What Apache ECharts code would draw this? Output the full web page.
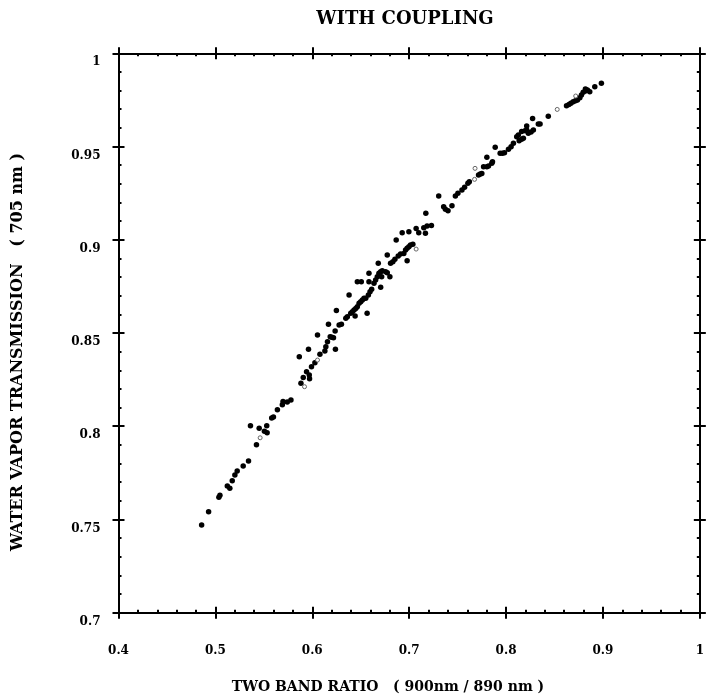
<!DOCTYPE html>
<html><head><meta charset="utf-8">
<script src="https://cdn.jsdelivr.net/npm/echarts@6/dist/echarts.min.js"></script>
<style>html,body{margin:0;padding:0;background:#fff}#c{width:707px;height:697px}</style>
</head><body><div id="c"></div>
<script>
const titleText = 'WITH COUPLING';
const xName = 'TWO BAND RATIO   ( 900nm / 890 nm )';
const yName = 'WATER VAPOR TRANSMISSION   ( 705 nm )';
const xTickLabels = ['0.4','0.5','0.6','0.7','0.8','0.9','1'];
const yTickLabels = ['0.7','0.75','0.8','0.85','0.9','0.95','1'];

const blackX = [0.4858,0.4930,0.5036,0.5047,0.5123,0.5149,0.5174,0.5201,0.5225,0.5287,0.5342,0.5424,0.5362,0.5452,0.5506,0.5534,0.5530,0.5581,0.5599,0.5640,0.5691,0.5698,0.5780,0.5742,
0.5883,0.5866,0.5907,0.5941,0.5969,0.5972,0.5992,0.6027,0.6079,0.6130,0.6140,0.6157,0.6185,0.6219,0.6239,0.6054,0.5961,0.6167,0.6249,0.6277,0.6301,0.6236,0.6202,
0.6346,0.6362,0.6397,0.6414,0.6431,0.6449,0.6465,0.6483,0.6500,0.6517,0.6534,0.6442,0.6566,0.6380,0.6552,0.6579,0.6596,0.6613,0.6465,0.6506,0.6585,0.6585,0.6637,
0.6654,0.6671,0.6688,0.6706,0.6722,0.6757,0.6774,0.6716,0.6801,0.6706,0.6681,0.6774,0.6808,0.6832,0.6853,0.6887,0.6911,0.6866,0.6945,0.6963,0.6979,0.6997,0.7014,
0.7038,0.6979,0.6928,0.6997,0.7072,0.7099,0.7168,0.7151,0.7185,0.7230,0.7172,
0.7305,0.7356,0.7374,0.7401,0.7442,0.7477,0.7503,0.7545,0.7572,0.7606,0.7621,0.7716,0.7734,0.7750,0.7768,0.7802,0.7819,0.7853,0.7860,0.7802,0.7888,0.7939,0.7963,
0.7984,0.8025,0.8052,0.8076,0.8110,0.8127,0.8135,0.8161,0.8179,0.8161,0.8196,0.8213,0.8213,0.8230,0.8258,0.8282,0.8274,0.8333,0.8351,0.8436,
0.8624,0.8649,0.8669,0.8693,0.8716,0.8737,0.8762,0.8778,0.8796,0.8819,0.8840,0.8864,0.8819,0.8916,0.8984];
const blackY = [0.7470,0.7542,0.7619,0.7630,0.7679,0.7667,0.7708,0.7738,0.7760,0.7787,0.7814,0.7901,0.8003,0.7989,0.7973,0.7965,0.8003,0.8044,0.8050,0.8089,0.8115,0.8132,0.8141,0.8130,
0.8230,0.8373,0.8262,0.8292,0.8275,0.8255,0.8319,0.8341,0.8386,0.8403,0.8426,0.8453,0.8480,0.8475,0.8413,0.8489,0.8413,0.8547,0.8620,0.8543,0.8547,0.8511,0.8477,
0.8579,0.8587,0.8606,0.8614,0.8623,0.8632,0.8641,0.8659,0.8668,0.8677,0.8686,0.8591,0.8606,0.8704,0.8686,0.8704,0.8721,0.8734,0.8775,0.8775,0.8775,0.8820,0.8767,
0.8784,0.8802,0.8820,0.8829,0.8834,0.8829,0.8823,0.8802,0.8802,0.8745,0.8874,0.8918,0.8874,0.8882,0.8895,0.8913,0.8924,0.8999,0.8927,0.8945,0.8954,0.8963,0.8972,
0.8976,0.8888,0.9038,0.9043,0.9061,0.9038,0.9035,0.9065,0.9074,0.9076,0.9142,
0.9235,0.9177,0.9163,0.9156,0.9183,0.9235,0.9249,0.9267,0.9281,0.9303,0.9311,0.9347,0.9353,0.9356,0.9392,0.9392,0.9396,0.9410,0.9419,0.9442,0.9496,0.9464,0.9464,
0.9467,0.9485,0.9499,0.9517,0.9553,0.9562,0.9531,0.9539,0.9544,0.9580,0.9585,0.9589,0.9610,0.9571,0.9578,0.9589,0.9651,0.9621,0.9621,0.9662,
0.9719,0.9726,0.9732,0.9740,0.9746,0.9750,0.9762,0.9776,0.9791,0.9798,0.9803,0.9794,0.9809,0.9821,0.9839];
const grayX = [0.5462,0.5920,0.6054,0.7072,0.7675,0.7680,0.8528,0.8719];
const grayY = [0.7938,0.8212,0.8355,0.8950,0.9324,0.9383,0.9699,0.9771];

const FONT = 'DejaVu Serif';
const blackData = blackX.map((x,i)=>[x, blackY[i]]);
const grayData = grayX.map((x,i)=>[x, grayY[i]]);
const fmt = v => String(Math.round(v*100)/100);
const xLab = v => { const i = Math.round((v-0.4)/0.1); return xTickLabels[i] || fmt(v); };
const yLab = v => { const i = Math.round((v-0.7)/0.05); return yTickLabels[i] || fmt(v); };

const line = {show:true, lineStyle:{color:'#000', width:2}};
function xAx(pos, inside, labels){
  return {type:'value', min:0.4, max:1, interval:0.1, position:pos,
    axisLine: inside ? line : {show:false},
    axisTick:{show:true, inside:inside, length:6, lineStyle:{color:'#000', width:2}},
    minorTick:{show:inside, splitNumber:5, length:3, lineStyle:{color:'#000', width:2}},
    splitLine:{show:false}, minorSplitLine:{show:false},
    axisLabel: labels ? {show:true, formatter:xLab, margin:32, color:'#000', fontFamily:FONT, fontWeight:'bold', fontSize:12} : {show:false}
  };
}
function yAx(pos, inside, labels){
  return {type:'value', min:0.7, max:1, interval:0.05, position:pos,
    axisLine: inside ? line : {show:false},
    axisTick:{show:true, inside:inside, length:6, lineStyle:{color:'#000', width:2}},
    minorTick:{show:inside, splitNumber:5, length:3, lineStyle:{color:'#000', width:2}},
    splitLine:{show:false}, minorSplitLine:{show:false},
    axisLabel: labels ? {show:true, formatter:yLab, margin:18, color:'#000', fontFamily:FONT, fontWeight:'bold', fontSize:12, verticalAlign:'top', padding:[3,0,0,0]} : {show:false}
  };
}

const chart = echarts.init(document.getElementById('c'));
chart.setOption({
  animation:false,
  backgroundColor:'#fff',
  grid:{left:118.5, right:5, top:53.3, bottom:84.3, containLabel:false},
  xAxis:[xAx('bottom',true,true), xAx('bottom',false,false), xAx('top',true,false), xAx('top',false,false)],
  yAxis:[yAx('left',true,true), yAx('left',false,false), yAx('right',true,false), yAx('right',false,false)],
  graphic:[
    {type:'text', x:405, y:19, style:{text:titleText, fill:'#000', fontFamily:FONT, fontWeight:'bold', fontSize:18, align:'center', verticalAlign:'middle'}},
    {type:'text', x:388, y:687, style:{text:xName, fill:'#000', fontFamily:FONT, fontWeight:'bold', fontSize:14, align:'center', verticalAlign:'middle'}},
    {type:'text', x:18, y:352, rotation:Math.PI/2, style:{text:yName, fill:'#000', fontFamily:FONT, fontWeight:'bold', fontSize:16, align:'center', verticalAlign:'middle'}}
  ],
  series:[
    {type:'scatter', xAxisIndex:0, yAxisIndex:0, data:blackData, symbol:'circle', symbolSize:5.5, itemStyle:{color:'#000', opacity:1}, silent:true},
    {type:'scatter', xAxisIndex:0, yAxisIndex:0, data:grayData, symbol:'circle', symbolSize:4, itemStyle:{color:'#fff', borderColor:'#666', borderWidth:1, opacity:1}, silent:true}
  ]
});
</script>
</body></html>
